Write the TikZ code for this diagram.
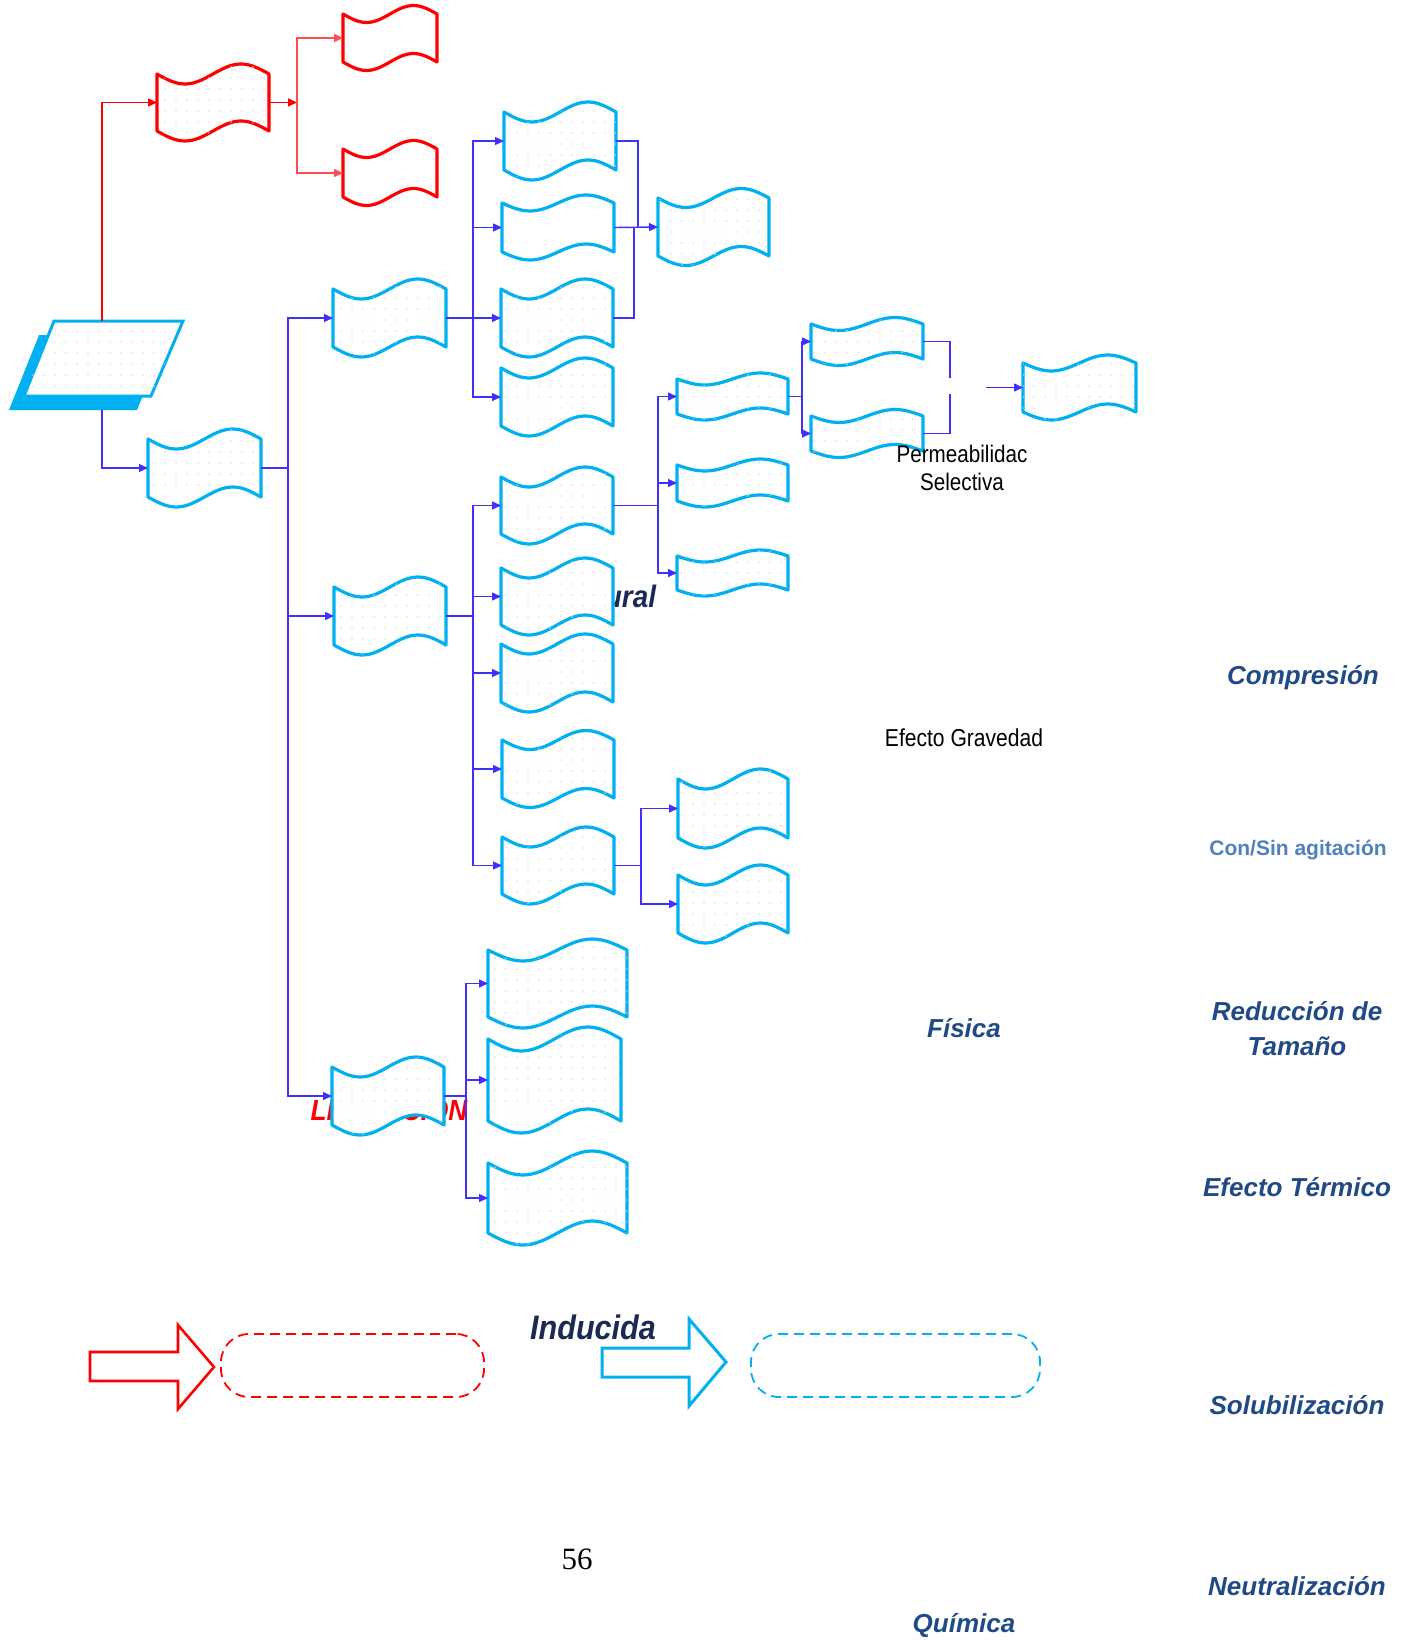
\documentclass[tikz,border=0pt]{standalone}
\usepackage{fontspec}
\setmainfont{Liberation Sans}
\newfontfamily\narrowsans{Liberation Sans}[FakeStretch=0.86]
\newfontfamily\condsans{Liberation Sans}[FakeStretch=0.9]
\newfontfamily\serifnum{Liberation Serif}
\usetikzlibrary{arrows.meta,patterns.meta}

\definecolor{tapecyan}{RGB}{0,176,240}
\definecolor{linkblue}{RGB}{64,48,255}
\definecolor{navy}{RGB}{27,42,85}
\definecolor{steel}{RGB}{31,73,135}
\definecolor{lightsteel}{RGB}{79,129,189}
\definecolor{dotgray}{RGB}{222,222,222}

\tikzset{
  bluetape/.style={draw=tapecyan, line width=3.2pt, line join=round},
  redtape/.style={draw=red, line width=3.2pt, line join=round},
  dotfill/.style={fill=white, postaction={pattern={Dots[radius=0.8pt,distance=11pt]}, pattern color=dotgray}},
  whitefill/.style={fill=white},
  link/.style={draw=linkblue, line width=1.4pt, -{Triangle[length=9pt,width=8pt]}},
  linkplain/.style={draw=linkblue, line width=1.4pt},
  redlink/.style={draw=red, line width=1.4pt, -{Triangle[length=9pt,width=8pt]}},
  anchorbox/.style={inner sep=0pt, outer sep=0pt},
  sidelabel/.style={inner sep=0pt, anchor=base, text=steel, font=\fontsize{26}{30}\selectfont\bfseries\itshape},
  flowlabel/.style={inner sep=0pt, anchor=base, text=navy, font=\condsans\fontsize{34}{38}\selectfont\bfseries\itshape},
  plainlabel/.style={inner sep=0pt, anchor=base, text=black, font=\narrowsans\fontsize{24}{28}\selectfont},
}

% wavy "tape" box: style, name, left x, right x, top corner y, bottom corner y, wave amplitude
\newcommand{\tapenode}[7]{%
  \path[#1] (#3,#5) sin ({#3+(#4-#3)/4},{#5+#7}) cos ({(#3+#4)/2},#5)
      sin ({#3+3*(#4-#3)/4},{#5-#7}) cos (#4,#5)
    -- (#4,#6) sin ({#3+3*(#4-#3)/4},{#6-#7}) cos ({(#3+#4)/2},#6)
      sin ({#3+(#4-#3)/4},{#6+#7}) cos (#3,#6) -- cycle;
  \node[anchorbox, minimum width={(#4-#3)*1pt}, minimum height={(#6-#5)*1pt}] (#2) at ({(#3+#4)/2},{(#5+#6)/2}) {};
}

\begin{document}
\begin{tikzpicture}[x=1pt, y=-1pt]
\useasboundingbox[fill=white] (0,0) rectangle (1411,1640);

% labels partly hidden behind the boxes
\node[flowlabel, font=\condsans\fontsize{31}{35}\selectfont\bfseries\itshape] (natural) at (608,607) {Natural};
\node[flowlabel, text=red, font=\condsans\fontsize{29}{33}\selectfont\bfseries\itshape] (lixiv) at (389,1120) {LIXIVIACION};

% source parallelogram with its solid shadow
\fill[tapecyan] (39,335) -- (168,335) -- (137,410) -- (9,410) -- cycle;
\path[dotfill, draw=tapecyan, line width=3pt, line join=miter] (54,321) -- (183,321) -- (151,396) -- (24,396) -- cycle;
\node[anchorbox, minimum width=1pt, minimum height=89pt] (src) at (102,365.5) {};

% red branch
\tapenode{redtape, dotfill}{R0}{157}{269}{74}{131}{10}
\tapenode{redtape, whitefill}{R1}{343}{437}{14}{62}{8.5}
\tapenode{redtape, whitefill}{R2}{343}{437}{149}{197}{8.5}

% blue branch
\tapenode{bluetape, dotfill}{B0}{148}{261}{439}{497}{10}
\tapenode{bluetape, dotfill}{B1}{333}{446}{289}{347}{10}
\tapenode{bluetape, dotfill}{B2}{334}{446}{587}{645}{10}
\tapenode{bluetape, dotfill}{B3}{332}{444}{1067}{1125}{10}

\tapenode{bluetape, dotfill}{A1}{504}{616}{112}{170}{10}
\tapenode{bluetape, whitefill}{A2}{502}{614}{203}{252}{8}
\tapenode{bluetape, dotfill}{A3}{501}{613}{289}{347}{10}
\tapenode{bluetape, dotfill}{A4}{501}{613}{368}{426}{10}
\tapenode{bluetape, dotfill}{C1}{658}{769}{198}{256}{9.5}

\tapenode{bluetape, dotfill}{D1}{501}{613}{477}{534}{10}
\tapenode{bluetape, dotfill}{D2}{501}{613}{568}{625}{10}
\tapenode{bluetape, dotfill}{D3}{501}{613}{644}{702}{10}
\tapenode{bluetape, dotfill}{D4}{502}{614}{740}{798}{9.5}
\tapenode{bluetape, dotfill}{D5}{502}{614}{837}{894}{10}

\tapenode{bluetape, dotfill}{E1}{677}{788}{379}{414}{6}
\tapenode{bluetape, dotfill}{E2}{677}{788}{465}{501}{6}
\tapenode{bluetape, dotfill}{E3}{677}{788}{556}{590}{6}
\tapenode{bluetape, dotfill}{F1}{811}{923}{324}{359}{6.5}
\tapenode{bluetape, dotfill}{F2}{811}{923}{416}{451}{6.5}
\tapenode{bluetape, dotfill}{G}{1023}{1136}{363}{412}{8}

\tapenode{bluetape, dotfill}{H1}{678}{788}{779}{838}{10}
\tapenode{bluetape, dotfill}{H2}{678}{788}{875}{933}{10}

\tapenode{bluetape, dotfill}{I1}{488}{627}{950}{1017}{11}
\tapenode{bluetape, dotfill}{I2}{488}{621}{1039}{1121}{12}
\tapenode{bluetape, dotfill}{I3}{488}{627}{1163}{1233}{12}

% junction points of the connectors
\coordinate (j0) at (288,468);
\coordinate (j1) at (473,318);
\coordinate (j2) at (473,616);
\coordinate (j3) at (658,505.5);
\coordinate (j4) at (802,396.5);
\coordinate (j5) at (641,865.5);
\coordinate (j6) at (466,1096);
\coordinate (j7) at (297,102.5);
\coordinate (k1) at (950,378);
\coordinate (k2) at (950,394);
\coordinate (g0) at (986,387.5);

% red connectors
\draw[redlink] (src.north) |- (R0.west);
\draw[redlink] (R0.east) -- (j7);
\draw[redlink, draw=red!70] (j7) |- (R1.west);
\draw[redlink, draw=red!70] (j7) |- (R2.west);

% blue connectors
\draw[link] (src.south) |- (B0.west);
\draw[linkplain] (B0.east) -- (j0);
\draw[link] (j0) |- (B1.west);
\draw[link] (j0) |- (B2.west);
\draw[link] (j0) |- (B3.west);

\draw[linkplain] (B1.east) -- (j1);
\draw[link] (j1) |- (A1.west);
\draw[link] (j1) |- (A2.west);
\draw[link] (j1) |- (A3.west);
\draw[link] (j1) |- (A4.west);
\draw[linkplain] (A1.east) -| (638,227.5);
\draw[linkplain] (A3.east) -| (634,227.5);
\draw[link] (A2.east) -- (C1.west);

\draw[linkplain] (B2.east) -- (j2);
\draw[link] (j2) |- (D1.west);
\draw[link] (j2) |- (D2.west);
\draw[link] (j2) |- (D3.west);
\draw[link] (j2) |- (D4.west);
\draw[link] (j2) |- (D5.west);

\draw[linkplain] (D1.east) -- (j3);
\draw[link] (j3) |- (E1.west);
\draw[link] (j3) |- (E2.west);
\draw[link] (j3) |- (E3.west);

\draw[linkplain] (E1.east) -- (j4);
\draw[link] (j4) |- (F1.west);
\draw[link] (j4) |- (F2.west);
\draw[linkplain] (F1.east) -| (k1);
\draw[linkplain] (F2.east) -| (k2);
\draw[link] (g0) -- (G.west);

\draw[linkplain] (D5.east) -- (j5);
\draw[link] (j5) |- (H1.west);
\draw[link] (j5) |- (H2.west);

\draw[linkplain] (B3.east) -- (j6);
\draw[link] (j6) |- (I1.west);
\draw[link] (j6) |- (I2.west);
\draw[link] (j6) |- (I3.west);

% plain labels
\node[plainlabel] (perm1) at (962,462) {Permeabilidac};
\node[plainlabel] (perm2) at (962,490) {Selectiva};
\node[plainlabel, font=\narrowsans\fontsize{24.5}{28}\selectfont] (grav) at (964,746) {Efecto Gravedad};

% right-hand column
\node[sidelabel] (compr) at (1303,684) {Compresión};
\node[sidelabel, text=lightsteel, font=\fontsize{21}{25}\selectfont\bfseries] (agit) at (1298,855) {Con/Sin agitación};
\node[sidelabel] (reduc1) at (1297,1020) {Reducción de};
\node[sidelabel] (reduc2) at (1297,1055) {Tamaño};
\node[sidelabel] (termico) at (1297,1196) {Efecto Térmico};
\node[sidelabel] (solub) at (1297,1414) {Solubilización};
\node[sidelabel] (neutr) at (1297,1595) {Neutralización};
\node[sidelabel] (fisica) at (964,1037) {Física};
\node[sidelabel] (quimica) at (964,1632) {Química};

% bottom row: block arrows and dashed boxes
\draw[red, line width=2.6pt, line join=miter]
  (90,1352) -- (178,1352) -- (178,1325) -- (214,1367) -- (178,1409) -- (178,1381) -- (90,1381) -- cycle;
\node[draw=red, dash pattern=on 10pt off 6pt, line width=1.8pt, rounded corners=28pt,
  minimum width=263pt, minimum height=63pt, inner sep=0pt] (redbox) at (352.5,1365.5) {};
\node[flowlabel] (induc) at (593,1339) {Inducida};
\draw[tapecyan, line width=3pt, line join=miter]
  (602,1348) -- (689,1348) -- (689,1319) -- (726,1362) -- (689,1406) -- (689,1377) -- (602,1377) -- cycle;
\node[draw=tapecyan, dash pattern=on 10pt off 6pt, line width=1.8pt, rounded corners=28pt,
  minimum width=289pt, minimum height=63pt, inner sep=0pt] (bluebox) at (895.5,1365.5) {};

% page number
\node[inner sep=0pt, anchor=base, font=\serifnum\fontsize{31}{35}\selectfont] (pagenum) at (577,1569) {56};
\end{tikzpicture}
\end{document}
